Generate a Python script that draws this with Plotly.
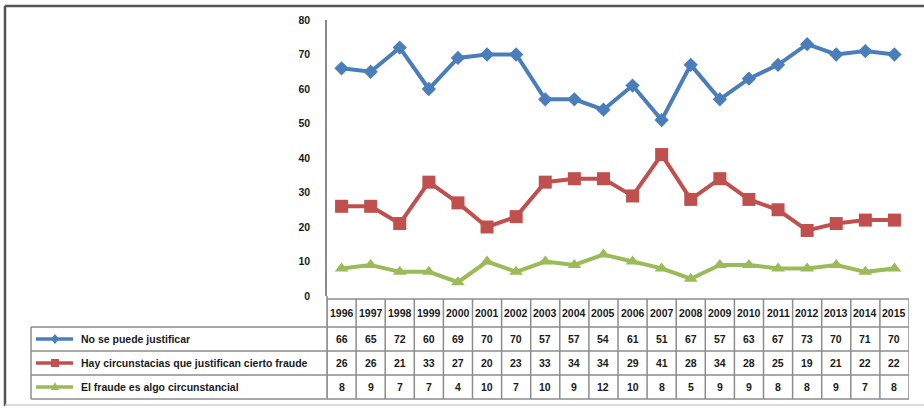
import plotly.graph_objects as go

years = ["1996", "1997", "1998", "1999", "2000", "2001", "2002", "2003", "2004", "2005",
         "2006", "2007", "2008", "2009", "2010", "2011", "2012", "2013", "2014", "2015"]
no_justifica = [66, 65, 72, 60, 69, 70, 70, 57, 57, 54, 61, 51, 67, 57, 63, 67, 73, 70, 71, 70]
hay_circ = [26, 26, 21, 33, 27, 20, 23, 33, 34, 34, 29, 41, 28, 34, 28, 25, 19, 21, 22, 22]
fraude_circ = [8, 9, 7, 7, 4, 10, 7, 10, 9, 12, 10, 8, 5, 9, 9, 8, 8, 9, 7, 8]

series_names = ["No se puede justificar",
                "Hay circunstacias que justifican cierto fraude",
                "El fraude es algo circunstancial"]
series_values = [no_justifica, hay_circ, fraude_circ]
colors = ["#4A7EBB", "#C0504D", "#9BBB59"]
symbols = ["diamond", "square", "triangle-up"]
msizes = [11, 13, 12]

W, H = 924, 408
L, R, T, B = 327, 909, 20, 296
FONT = "Liberation Sans"


def px(x):
    return (x - L) / (R - L)


def py(y):
    return (B - y) / (B - T)


fig = go.Figure()
for name, vals, c, s, ms in zip(series_names, series_values, colors, symbols, msizes):
    fig.add_trace(go.Scatter(x=list(range(len(years))), y=vals, name=name, mode="lines+markers",
                             line=dict(color=c, width=4),
                             marker=dict(symbol=s, size=ms, color=c),
                             showlegend=False, cliponaxis=False))

shapes = []
ann = []
# outer frame
shapes.append(dict(type="line", xref="paper", yref="paper", x0=px(5), x1=px(924), y0=py(6), y1=py(6),
                   line=dict(color="#555555", width=2.5)))
shapes.append(dict(type="line", xref="paper", yref="paper", x0=px(5), x1=px(5), y0=py(6), y1=py(406),
                   line=dict(color="#555555", width=2.5)))
shapes.append(dict(type="line", xref="paper", yref="paper", x0=px(5), x1=px(924), y0=py(405), y1=py(405),
                   line=dict(color="#d0d0d0", width=1.5)))

grid = dict(color="#8c8c8c", width=1.5)
row_tops = [299, 327, 351, 375, 399]
shapes.append(dict(type="line", xref="paper", yref="paper", x0=0, x1=1, y0=py(row_tops[0]), y1=py(row_tops[0]), line=grid))
for yy in row_tops[1:]:
    shapes.append(dict(type="line", xref="paper", yref="paper", x0=px(31), x1=1, y0=py(yy), y1=py(yy), line=grid))
shapes.append(dict(type="line", xref="paper", yref="paper", x0=px(31), x1=px(31), y0=py(327), y1=py(399), line=grid))
shapes.append(dict(type="line", xref="paper", yref="paper", x0=0, x1=0, y0=py(B), y1=py(399), line=grid))
for k in range(len(years) + 1):
    shapes.append(dict(type="line", xref="x", yref="paper", x0=k - 0.5, x1=k - 0.5,
                       y0=py(299), y1=py(399), line=grid))

tfont = dict(family=FONT, size=10.5, color="#1a1a1a", weight="bold")
centers = [313, 339, 363, 387]
for i, yr in enumerate(years):
    ann.append(dict(x=i, y=py(centers[0]), xref="x", yref="paper", text=yr, showarrow=False,
                    font=tfont, xanchor="center", yanchor="middle"))
    for r, vals in enumerate(series_values):
        ann.append(dict(x=i, y=py(centers[r + 1]), xref="x", yref="paper", text=str(vals[i]),
                        showarrow=False, font=tfont, xanchor="center", yanchor="middle"))

for r, (name, c) in enumerate(zip(series_names, colors)):
    yc = centers[r + 1]
    shapes.append(dict(type="line", xref="paper", yref="paper", x0=px(36), x1=px(73), y0=py(yc), y1=py(yc),
                       line=dict(color=c, width=3.5)))
    cx = 55
    if r == 0:
        pts = [(cx, yc - 5), (cx + 4, yc), (cx, yc + 5), (cx - 4, yc)]
    elif r == 1:
        pts = [(cx - 4, yc - 4), (cx + 4, yc - 4), (cx + 4, yc + 4), (cx - 4, yc + 4)]
    else:
        pts = [(cx, yc - 5), (cx + 4, yc + 3), (cx - 4, yc + 3)]
    path = "M " + " L ".join(f"{px(a):.5f},{py(b):.5f}" for a, b in pts) + " Z"
    shapes.append(dict(type="path", xref="paper", yref="paper", path=path,
                       fillcolor=c, line=dict(color=c, width=0)))
    ann.append(dict(x=px(79), y=py(yc), xref="paper", yref="paper", text=name, showarrow=False,
                    font=tfont, xanchor="left", yanchor="middle"))

fig.update_layout(
    width=W, height=H, autosize=False,
    margin=dict(l=L, r=W - R, t=T, b=H - B, pad=0),
    paper_bgcolor="white", plot_bgcolor="white",
    shapes=shapes, annotations=ann,
    xaxis=dict(range=[-0.5, len(years) - 0.5], showticklabels=False,
               showgrid=False, zeroline=False, showline=False, ticks=""),
    yaxis=dict(range=[0, 80], dtick=10, showgrid=False, zeroline=False, showline=True,
               linecolor="#8c8c8c", linewidth=1.5, ticks="", ticklabelstandoff=13,
               tickfont=dict(family=FONT, size=10.5, color="#1a1a1a", weight="bold")),
)

fig.write_html("out.html", config={"displayModeBar": False},
               post_script="document.body.style.margin='0px';document.body.style.overflow='hidden';")
